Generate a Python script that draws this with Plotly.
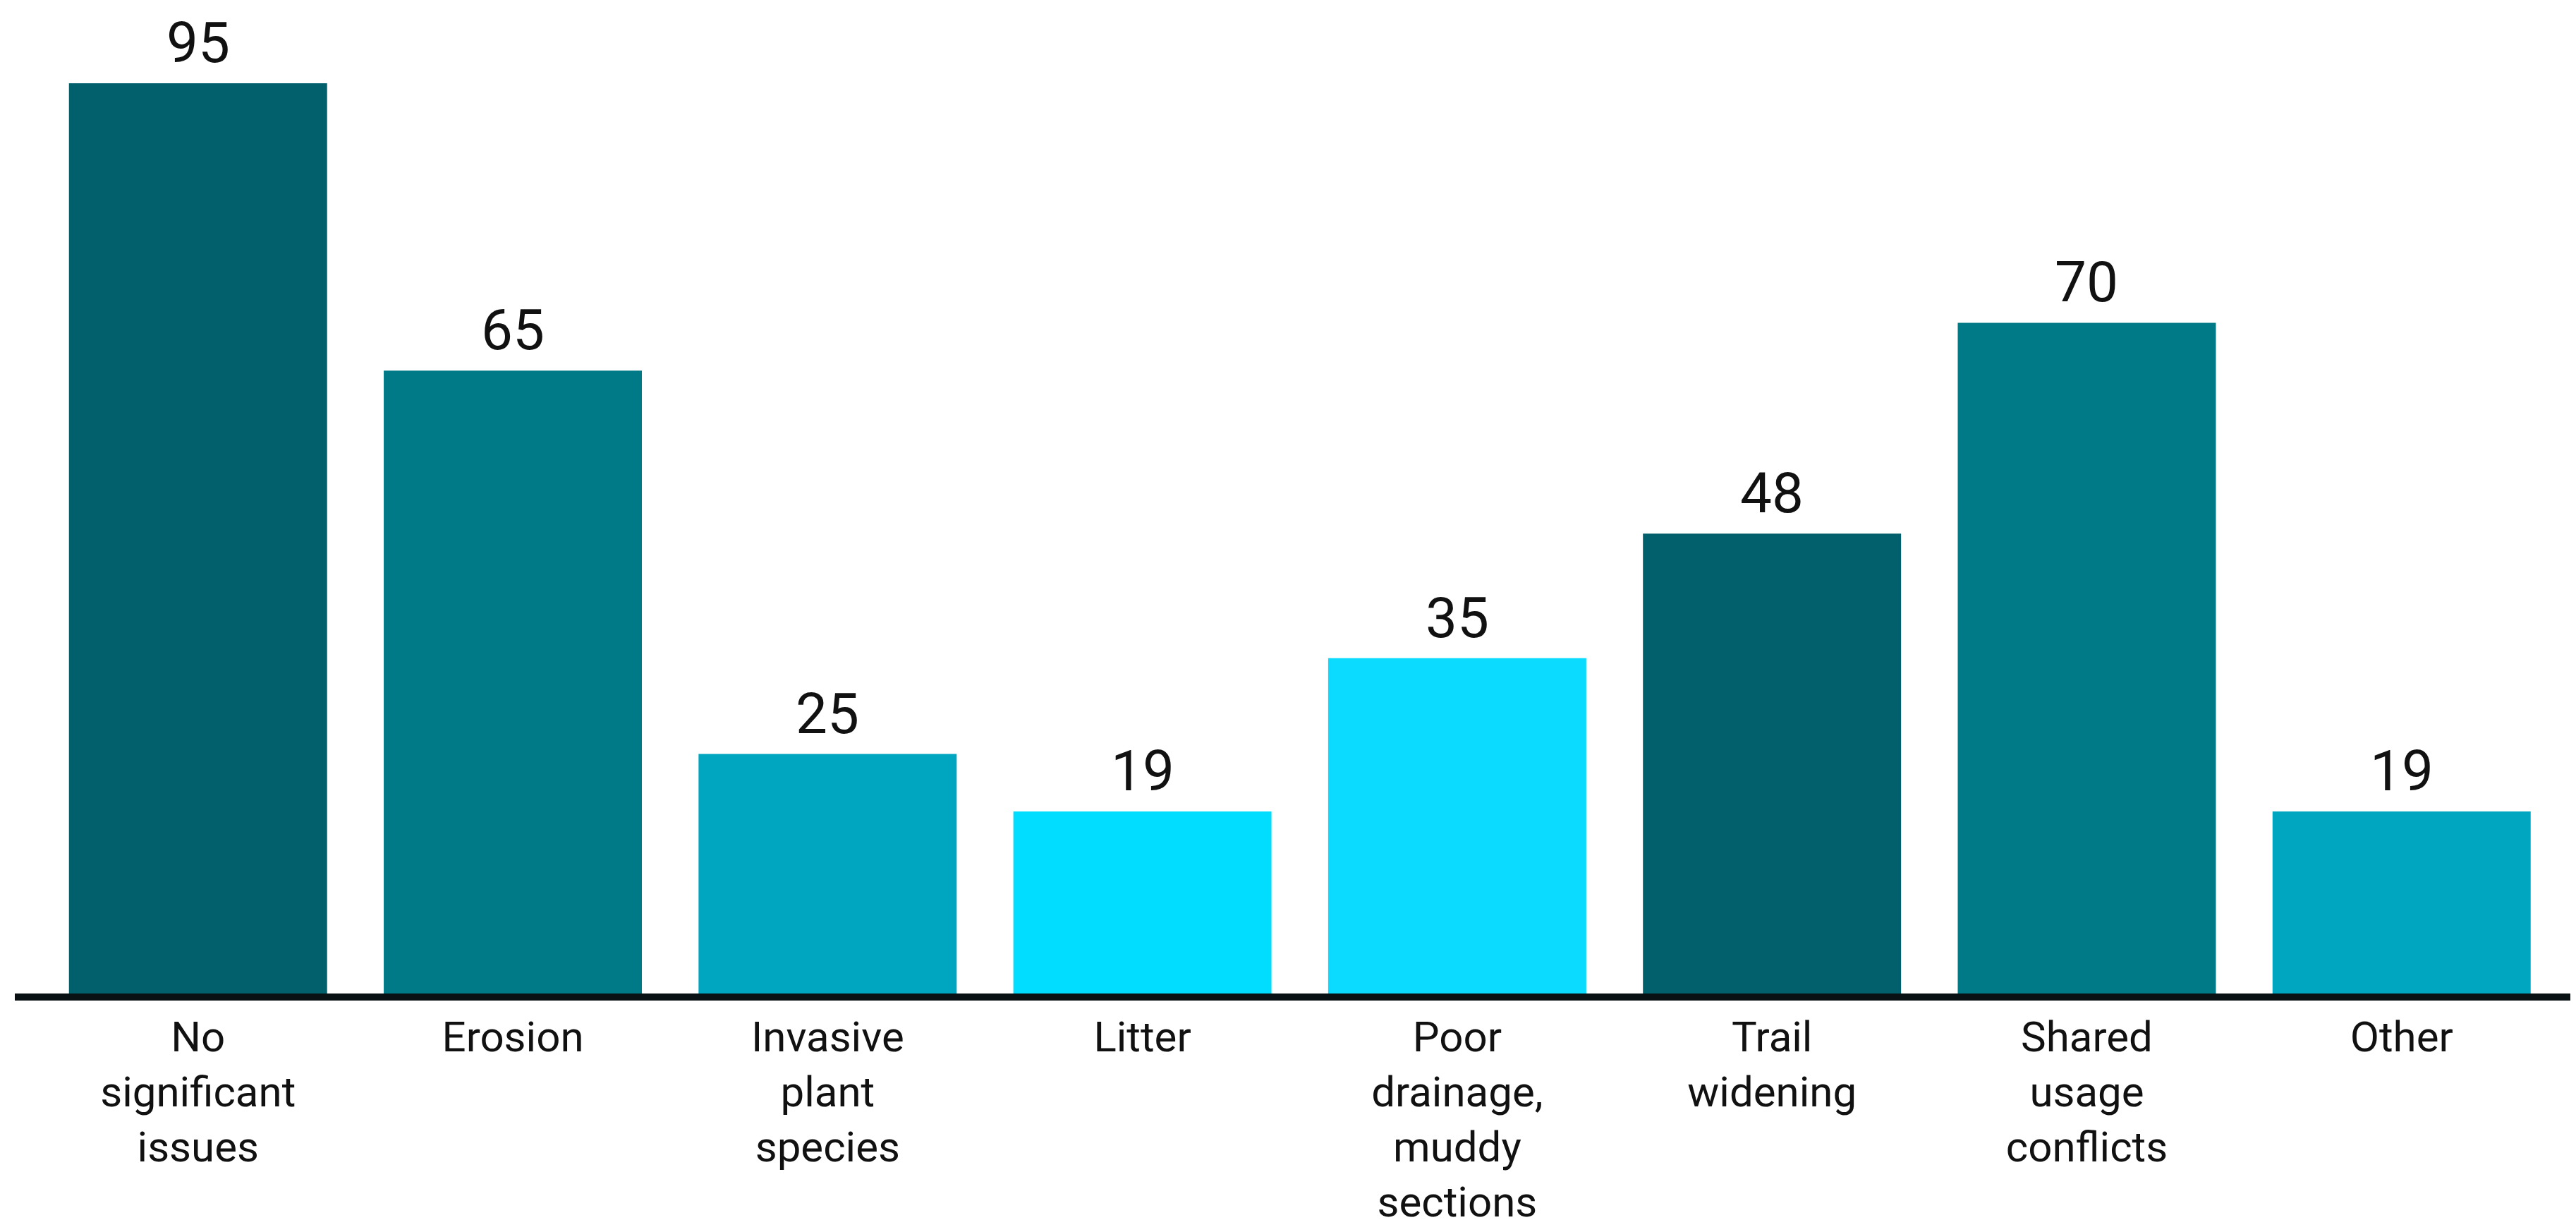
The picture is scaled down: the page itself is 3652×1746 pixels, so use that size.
import plotly.graph_objects as go

categories = ["No significant issues", "Erosion", "Invasive plant species", "Litter",
              "Poor drainage, muddy sections", "Trail widening", "Shared usage conflicts", "Other"]
tick_labels = ["No<br>significant<br>issues", "Erosion", "Invasive<br>plant<br>species", "Litter",
               "Poor<br>drainage,<br>muddy<br>sections", "Trail<br>widening", "Shared<br>usage<br>conflicts", "Other"]
values = [95, 65, 25, 19, 35, 48, 70, 19]
colors = ["#02606c", "#017a87", "#00a6bf", "#00ddff", "#0bdcff", "#02606c", "#017a87", "#00a6bf"]

FONT = "Roboto"

fig = go.Figure()
fig.add_trace(go.Bar(
    x=categories, y=values, width=0.82,
    marker=dict(color=colors, line=dict(width=0)),
    hoverinfo="skip",
))
for c, v in zip(categories, values):
    fig.add_annotation(x=c, y=v, text=str(v), showarrow=False, yanchor="bottom",
                       yshift=8, font=dict(family=FONT, size=80, color="#111111"))

fig.update_layout(
    width=3644, height=1738,
    margin=dict(l=13, r=0, t=0, b=338, autoexpand=False),
    plot_bgcolor="white", paper_bgcolor="white",
    showlegend=False,
    font=dict(family=FONT, color="#111111"),
    bargap=0.18,
)
fig.update_xaxes(
    type="category", range=[-0.582, 7.554], automargin=False,
    tickvals=categories, ticktext=tick_labels,
    showline=True, linecolor="#0a1114", linewidth=10,
    ticks="", showgrid=False, zeroline=False,
    tickfont=dict(family=FONT, size=60, color="#111111"),
    ticklabelstandoff=0,
)
fig.update_yaxes(range=[0, 103.1], visible=False, showgrid=False, zeroline=False, automargin=False)

fig.write_html("out.html")
